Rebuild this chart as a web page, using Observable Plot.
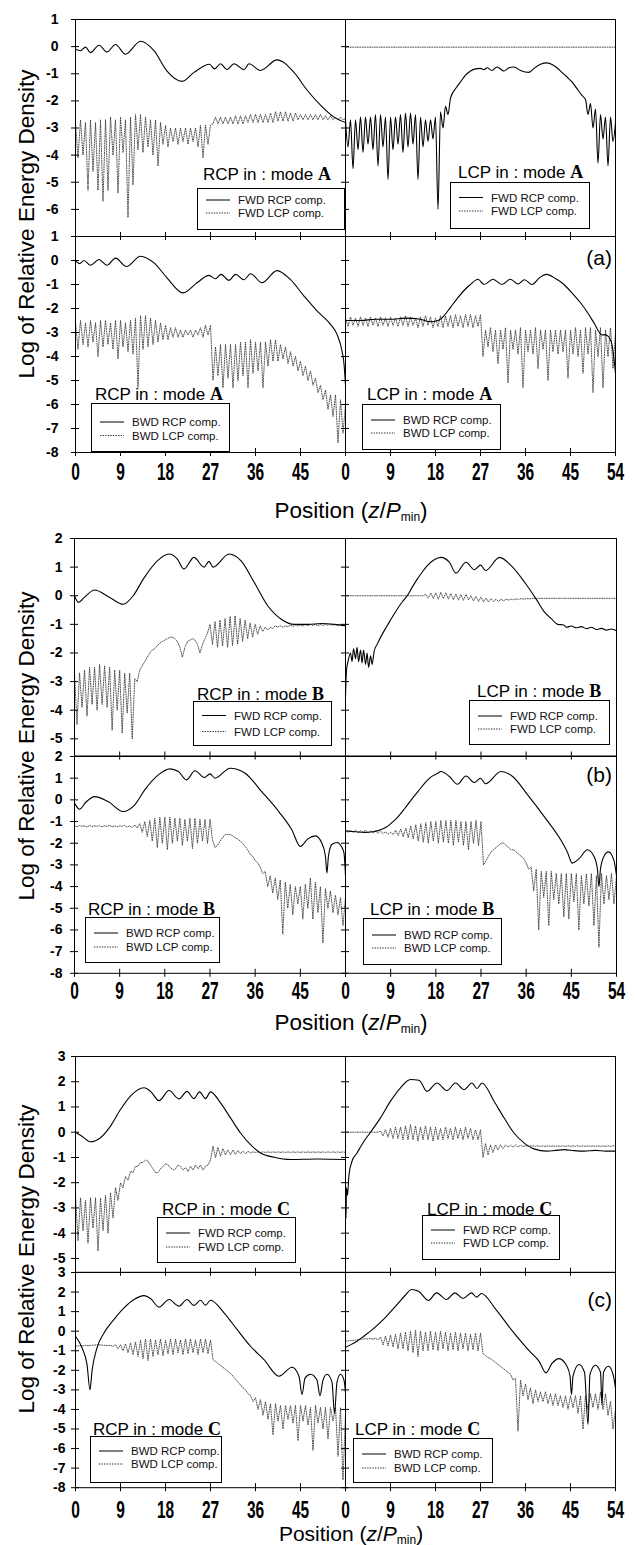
<!DOCTYPE html>
<html><head><meta charset="utf-8">
<script src="https://cdn.jsdelivr.net/npm/d3@7"></script>
<script src="https://cdn.jsdelivr.net/npm/@observablehq/plot@0.6"></script>
<style>
body{margin:0;background:#fff;}
#fig{position:relative;width:635px;height:1545px;overflow:hidden;font-family:"Liberation Sans",Arial,sans-serif;color:#000;background:#fff;}
#fig svg{position:absolute;}
.ttl{position:absolute;white-space:nowrap;font-size:22.5px;line-height:1;}
.hd{position:absolute;white-space:nowrap;font-size:17px;line-height:20px;height:20px;}
.hd b{font-family:"Liberation Serif","Times New Roman",serif;font-weight:bold;font-size:18px;}
.lg{position:absolute;border:1px solid #000;background:#fff;box-sizing:border-box;}
</style></head>
<body><div id="fig"></div>
<script>
// ---------- tick labels ----------
const XT = [0, 9, 18, 27, 36, 45, 54];
const YT_A_TOP = [1, 0, -1, -2, -3, -4, -5, -6];
const YT_A_BOT = [1, 0, -1, -2, -3, -4, -5, -6, -7, -8];
const YT_B_TOP = [2, 1, 0, -1, -2, -3, -4, -5];
const YT_B_BOT = [2, 1, 0, -1, -2, -3, -4, -5, -6, -7, -8];
const YT_C_TOP = [3, 2, 1, 0, -1, -2, -3, -4, -5];
const YT_C_BOT = [3, 2, 1, 0, -1, -2, -3, -4, -5, -6, -7, -8];

// ---------- (a) mode A ----------
// solid curves: [z, log density]
const A_TL_RCP = [[0,-0.1],[1,-0.15],[2,-0.02],[3,-0.22],[4.7,0.05],[6.3,-0.2],[8,0.08],[10,-0.28],[13,0.2],[15.7,-0.15],[18.3,-0.9],[21.3,-1.28],[23.7,-0.95],[26.8,-0.65],[27.8,-0.82],[29,-0.63],[30.3,-0.85],[31.7,-0.63],[33.7,-0.85],[34.7,-0.63],[37,-0.88],[40.3,-0.49],[43.7,-0.95],[46.3,-1.6],[49,-2.16],[51.7,-2.6],[54,-2.8]];
// dotted curves sampled every 0.5 in z (z = 0 … 54)
const A_TL_LCP = [-2.8,-4.1,-2.7,-4.0,-2.8,-5.3,-2.7,-4.6,-2.8,-5.3,
 -2.7,-5.7,-2.7,-5.3,-2.6,-4.0,-2.7,-5.4,-2.6,-3.9,
 -2.7,-6.3,-2.6,-5.1,-2.5,-3.8,-2.5,-3.9,-2.6,-3.7,
 -2.7,-4.0,-2.7,-4.4,-2.8,-3.6,-2.9,-3.7,-3.0,-3.5,
 -3.0,-3.6,-3.0,-3.5,-3.0,-3.6,-3.0,-3.5,-3.0,-3.7,
 -2.9,-4.1,-2.9,-3.6,-2.9,-2.85,-2.6,-2.85,-2.6,-2.85,
 -2.6,-2.85,-2.6,-2.85,-2.55,-2.85,-2.55,-2.85,-2.55,-2.8,
 -2.5,-2.8,-2.5,-2.8,-2.5,-2.8,-2.5,-2.8,-2.45,-2.8,
 -2.4,-2.75,-2.4,-2.75,-2.4,-2.75,-2.45,-2.75,-2.45,-2.7,
 -2.5,-2.7,-2.5,-2.7,-2.5,-2.7,-2.5,-2.7,-2.5,-2.7,
 -2.55,-2.7,-2.55,-2.7,-2.6,-2.7,-2.6,-2.7,-2.65];
const A_TR_RCP = [[0,-2.7],[0.5,-3.7],[1,-2.7],[1.5,-4.5],[2,-2.7],[2.5,-3.8],[3,-2.6],[3.5,-3.9],[4,-2.6],[4.5,-3.6],[5,-2.6],[5.5,-3.8],[6,-2.5],[6.5,-4.4],[7,-2.5],[7.5,-3.7],[8,-2.6],[8.5,-4.9],[9,-2.6],[9.5,-3.8],[10,-2.6],[10.5,-3.6],[11,-2.5],[11.5,-3.9],[12,-2.45],[12.5,-3.7],[13,-2.45],[13.5,-3.6],[14,-2.5],[14.5,-4.9],[15,-2.6],[15.5,-3.7],[16,-2.7],[16.5,-3.5],[17,-2.7],[17.5,-3.4],[18,-2.6],[18.5,-6.0],[19,-2.4],[19.5,-3.0],[20,-2.2],[20.5,-2.5],[21,-1.9],[22,-1.55],[23,-1.3],[24,-1.05],[25,-0.9],[26,-0.82],[27,-0.8],[27.7,-0.85],[28.3,-0.78],[29.3,-0.88],[30.3,-0.75],[31.7,-0.9],[32.7,-0.78],[33.7,-0.75],[35,-0.88],[36.7,-0.95],[37.7,-0.8],[39,-0.65],[40.3,-0.6],[41.5,-0.68],[42.3,-0.78],[43.3,-0.95],[44.3,-1.12],[45.3,-1.3],[46.3,-1.55],[47.3,-1.8],[48,-1.95],[48.5,-2.5],[49,-2.1],[49.5,-3.0],[50,-2.3],[50.5,-4.3],[51,-2.5],[51.5,-3.4],[52,-2.6],[52.5,-4.4],[53,-2.6],[53.5,-3.5],[54,-2.8]];
const A_TR_LCP = [[0,-0.02],[54,-0.02]];
const A_BL_RCP = [[0,0],[0.8,-0.13],[1.7,0],[3,-0.2],[4.7,0.04],[6.3,-0.2],[8,0.1],[10.2,-0.25],[13,0.18],[15.7,-0.1],[18.3,-0.72],[21.5,-1.35],[24.3,-0.93],[26.7,-0.62],[28,-0.76],[29.1,-0.58],[30.7,-0.83],[32,-0.58],[33.7,-0.8],[35,-0.55],[37.3,-0.93],[40.3,-0.42],[43,-0.8],[45.7,-1.48],[48.3,-2.1],[51,-2.66],[52.3,-3.08],[53.3,-3.77],[53.7,-4.3],[54,-5.2]];
const A_BL_LCP = [-2.6,-3.7,-2.5,-3.5,-2.6,-3.6,-2.5,-3.4,-2.6,-4.0,
 -2.5,-3.6,-2.5,-3.5,-2.6,-3.7,-2.5,-4.1,-2.5,-3.6,
 -2.6,-3.8,-2.5,-3.9,-2.4,-5.3,-2.3,-3.7,-2.3,-3.6,
 -2.4,-3.5,-2.5,-3.4,-2.6,-3.3,-2.7,-3.3,-2.8,-3.2,
 -2.8,-3.2,-2.9,-3.2,-2.9,-3.1,-2.9,-3.2,-2.9,-3.1,
 -2.8,-3.2,-2.7,-3.1,-2.7,-5.0,-3.6,-4.8,-3.5,-5.3,
 -3.5,-4.9,-3.5,-5.3,-3.5,-5.0,-3.4,-4.8,-3.4,-5.3,
 -3.3,-4.7,-3.4,-4.6,-3.4,-5.3,-3.4,-4.4,-3.3,-4.2,
 -3.3,-4.2,-3.5,-4.1,-3.6,-4.3,-3.8,-4.4,-4.0,-4.6,
 -4.2,-4.8,-4.4,-5.0,-4.6,-5.2,-4.9,-5.5,-5.2,-5.8,
 -5.4,-6.2,-5.6,-6.5,-5.6,-7.6,-5.8,-7.2,-6.0];
const A_BR_RCP = [[0,-2.5],[3,-2.5],[6,-2.45],[9,-2.45],[12,-2.4],[15,-2.45],[17,-2.55],[18.5,-2.5],[19.7,-2.3],[21,-1.95],[22.3,-1.6],[23.7,-1.25],[25,-1.0],[26.5,-0.78],[27.7,-1.0],[29.5,-0.78],[31.3,-1.0],[33,-0.78],[34.5,-0.98],[35.8,-0.8],[37.3,-1.0],[38.8,-0.72],[40.2,-0.58],[42,-0.75],[43.7,-1.0],[45.3,-1.35],[47,-1.76],[48.5,-2.2],[49.7,-2.6],[51.3,-3.1],[52,-3.1],[52.7,-3.2],[53.3,-3.5],[54,-4.7]];
const A_BR_LCP = [-2.4,-2.75,-2.35,-2.7,-2.4,-2.75,-2.35,-2.7,-2.4,-2.75,
 -2.35,-2.7,-2.4,-2.75,-2.35,-2.7,-2.4,-2.75,-2.35,-2.7,
 -2.4,-2.75,-2.35,-2.7,-2.3,-2.75,-2.35,-2.7,-2.4,-2.8,
 -2.35,-2.75,-2.3,-2.7,-2.35,-2.8,-2.4,-2.75,-2.3,-2.8,
 -2.3,-2.75,-2.3,-2.8,-2.25,-2.75,-2.3,-2.8,-2.25,-2.75,
 -2.25,-2.8,-2.3,-2.75,-2.25,-4.0,-2.9,-3.6,-2.8,-3.8,
 -2.9,-4.3,-2.9,-3.7,-2.8,-5.1,-2.9,-3.7,-2.9,-3.9,
 -2.8,-5.3,-2.9,-3.8,-2.9,-3.9,-2.8,-4.5,-2.9,-3.7,
 -2.9,-5.0,-2.9,-3.8,-2.9,-3.9,-2.9,-3.8,-2.9,-4.9,
 -2.9,-3.9,-2.8,-4.0,-2.9,-4.7,-2.8,-3.9,-2.8,-5.5,
 -2.9,-4.0,-2.8,-5.3,-2.9,-4.0,-2.8,-4.5,-3.0];

// ---------- (b) mode B ----------
const B_TL_RCP = [[0,0],[0.8,-0.23],[2,-0.05],[4,0.2],[7,-0.06],[9.7,-0.3],[11.7,0],[13.7,0.58],[16.5,1.22],[18.8,1.46],[20.5,1.28],[21.8,0.93],[23.8,1.34],[25.8,1.0],[26.8,1.2],[27.6,1.0],[30.8,1.46],[33.2,1.22],[35.8,0.47],[38.5,-0.35],[41.2,-0.82],[43.8,-1.0],[46.5,-1.0],[49.2,-0.97],[51.8,-1.0],[54,-1.05]];
const B_TL_LCP = [-2.7,-4.5,-2.7,-3.9,-2.6,-4.2,-2.5,-3.8,-2.5,-4.0,
 -2.4,-3.8,-2.45,-3.9,-2.5,-4.7,-2.6,-4.0,-2.6,-4.8,
 -2.7,-4.1,-2.7,-5.0,-2.9,-3.0,-2.6,-2.45,-2.3,-2.15,
 -2.0,-1.9,-1.85,-1.75,-1.65,-1.6,-1.55,-1.5,-1.45,-1.45,
 -1.5,-1.6,-1.8,-2.15,-1.8,-1.6,-1.55,-1.5,-1.55,-1.7,
 -2.0,-1.7,-1.5,-1.3,-1.0,-1.7,-0.9,-1.8,-0.85,-1.75,
 -0.8,-1.8,-0.72,-1.75,-0.7,-1.7,-0.8,-1.6,-0.85,-1.5,
 -0.95,-1.45,-1.0,-1.35,-1.05,-1.25,-1.1,-1.2,-1.1,-1.15,
 -1.05,-1.1,-1.05,-1.1,-1.05,-1.08,-1.03,-1.07,-1.02,-1.06,
 -1.02,-1.06,-1.0,-1.05,-1.0,-1.04,-1.0,-1.05,-1.0,-1.04,
 -1.0,-1.03,-1.0,-1.03,-1.0,-1.04,-1.0,-1.03,-1.02];
const B_TR_RCP = [[0,-3.5],[0.2,-2.6],[0.5,-2.3],[1,-2.0],[1.3,-2.3],[1.6,-1.85],[2,-2.2],[2.3,-1.8],[2.6,-2.3],[3,-1.9],[3.3,-2.35],[3.6,-1.9],[4,-2.4],[4.3,-2.0],[4.6,-2.5],[5,-2.1],[5.3,-2.4],[5.7,-1.95],[6.3,-1.7],[7.3,-1.35],[8.3,-1.05],[9.3,-0.75],[10.3,-0.47],[11.3,-0.22],[12.3,0],[13.3,0.3],[14.3,0.58],[15.3,0.83],[16.3,1.05],[17.6,1.25],[19,1.34],[20.7,1.17],[22,0.79],[24,1.17],[25.7,0.91],[26.9,1.07],[27.9,0.88],[30.7,1.34],[33,1.05],[35.7,0.47],[38,-0.12],[39.7,-0.58],[41,-0.8],[42.3,-1.0],[43.5,-1.02],[44,-1.1],[45,-1.06],[46,-1.12],[47,-1.08],[48,-1.15],[49,-1.1],[50,-1.18],[51,-1.14],[52,-1.2],[53,-1.16],[54,-1.22]];
const B_TR_LCP = [0,0,0,0,0,0,0,0,0,0,
 0,0,0,0,0,0,0,0,0,0,
 0,0,0,0,0,0,0,0,0,0,
 0,0,0.05,-0.08,0.1,-0.1,0.1,-0.12,0.12,-0.1,
 0.1,-0.12,0.08,-0.14,0.06,-0.15,0.04,-0.16,0.05,-0.15,
 0.0,-0.18,-0.02,-0.2,-0.05,-0.22,-0.08,-0.22,-0.1,-0.2,
 -0.12,-0.2,-0.12,-0.18,-0.12,-0.15,-0.12,-0.14,-0.11,-0.13,
 -0.1,-0.12,-0.1,-0.11,-0.1,-0.09,-0.09,-0.09,-0.09,-0.09,
 -0.09,-0.09,-0.09,-0.09,-0.09,-0.09,-0.09,-0.09,-0.09,-0.09,
 -0.09,-0.09,-0.09,-0.09,-0.09,-0.09,-0.09,-0.09,-0.09,-0.09,
 -0.09,-0.09,-0.09,-0.09,-0.09,-0.09,-0.09,-0.09,-0.09];
const B_BL_RCP = [[0,-0.15],[1,-0.43],[2.3,-0.1],[4,0.15],[6.7,-0.08],[9.7,-0.54],[12,-0.23],[14,0.46],[16.7,1.15],[19,1.43],[20.7,1.31],[22.3,0.92],[24,1.34],[25.9,1.03],[27,1.2],[28,1.0],[31,1.46],[34,1.23],[37.3,0.38],[40.7,-0.54],[43.3,-1.38],[45,-2.15],[46.5,-1.8],[48,-1.66],[49.3,-2.0],[50,-2.6],[50.3,-3.38],[50.6,-2.6],[51.3,-2.05],[52.3,-1.97],[53.3,-2.2],[53.7,-2.46],[54,-3.5]];
const B_BL_LCP = [-1.2,-1.24,-1.18,-1.22,-1.2,-1.25,-1.18,-1.23,-1.2,-1.22,
 -1.19,-1.24,-1.2,-1.22,-1.18,-1.24,-1.2,-1.25,-1.2,-1.22,
 -1.18,-1.26,-1.2,-1.28,-1.15,-1.3,-1.1,-1.5,-1.0,-1.7,
 -0.95,-1.9,-0.85,-2.2,-0.8,-2.0,-0.8,-2.3,-0.8,-2.0,
 -0.85,-1.9,-0.85,-2.1,-0.9,-1.9,-0.85,-2.25,-0.85,-2.0,
 -0.9,-1.9,-0.9,-2.0,-0.9,-1.85,-2.2,-2.1,-1.9,-1.75,
 -1.6,-1.6,-1.6,-1.65,-1.75,-1.8,-1.9,-2.0,-2.15,-2.3,
 -2.5,-2.6,-2.8,-2.9,-3.1,-3.4,-3.3,-4.0,-3.5,-4.3,
 -3.6,-4.6,-3.7,-6.2,-3.8,-5.0,-3.9,-5.3,-4.0,-4.8,
 -4.0,-5.5,-3.9,-5.0,-3.6,-5.5,-3.8,-5.2,-4.0,-6.6,
 -4.1,-5.0,-4.2,-5.2,-4.4,-5.3,-4.5,-5.8,-4.5];
const B_BR_RCP = [[0,-1.43],[2,-1.47],[3.8,-1.5],[5.5,-1.47],[6.5,-1.42],[7.5,-1.33],[8.5,-1.2],[9.5,-1.0],[10.5,-0.77],[11.8,-0.4],[13.1,0],[14.5,0.4],[15.8,0.77],[17,1.05],[18.4,1.23],[19,1.31],[20.7,1.08],[22.3,0.72],[24,1.1],[25.7,0.8],[26.9,1.0],[27.9,0.74],[31,1.31],[33.3,1.08],[36.3,0.23],[39.6,-0.77],[42.9,-1.85],[44.2,-2.4],[45.2,-2.92],[46.6,-2.7],[48.2,-2.3],[49.5,-2.6],[50.2,-3.2],[50.5,-4.0],[50.8,-3.2],[51.5,-2.6],[52.4,-2.4],[53.5,-2.8],[54,-3.5]];
const B_BR_LCP = [-1.4,-1.5,-1.42,-1.5,-1.4,-1.52,-1.42,-1.5,-1.4,-1.52,
 -1.42,-1.52,-1.45,-1.55,-1.45,-1.55,-1.48,-1.58,-1.5,-1.6,
 -1.4,-1.65,-1.35,-1.7,-1.3,-1.75,-1.2,-1.8,-1.15,-1.9,
 -1.1,-1.95,-1.05,-2.0,-1.0,-1.9,-1.0,-2.0,-0.95,-1.95,
 -0.95,-2.0,-0.95,-2.1,-0.95,-1.95,-1.0,-2.1,-1.0,-2.3,
 -1.0,-2.0,-0.95,-2.1,-1.0,-3.0,-2.8,-2.6,-2.4,-2.3,
 -2.2,-2.1,-2.0,-2.0,-2.1,-2.2,-2.3,-2.3,-2.4,-2.5,
 -2.6,-2.7,-2.9,-3.2,-3.1,-4.2,-3.2,-6.0,-3.3,-4.5,
 -3.3,-5.8,-3.3,-4.6,-3.4,-4.8,-3.4,-5.4,-3.4,-5.5,
 -3.4,-4.7,-3.4,-6.0,-3.5,-4.8,-3.4,-4.9,-3.4,-5.8,
 -3.5,-6.8,-3.4,-4.8,-3.5,-4.6,-3.4,-4.8,-3.5];

// ---------- (c) mode C ----------
const C_TL_RCP = [[0,0],[1.3,-0.16],[3,-0.38],[5,-0.22],[7,0.24],[9,0.9],[11,1.43],[13.7,1.76],[15,1.62],[16.7,1.25],[18.7,1.65],[20.7,1.32],[22.3,1.62],[23.7,1.33],[24.8,1.6],[26,1.33],[27,1.6],[29,1.16],[31,0.57],[33,-0.03],[35,-0.49],[37,-0.82],[39.7,-0.99],[43,-1.08],[48.3,-1.06],[54,-1.08]];
const C_TL_LCP = [-2.5,-4.3,-2.6,-3.9,-2.7,-4.4,-2.6,-3.8,-2.6,-4.7,
 -2.6,-3.9,-2.5,-4.0,-2.4,-3.4,-2.2,-2.7,-2.0,-2.2,
 -1.75,-1.9,-1.55,-1.6,-1.35,-1.35,-1.2,-1.2,-1.1,-1.15,
 -1.3,-1.45,-1.6,-1.6,-1.45,-1.35,-1.25,-1.3,-1.4,-1.5,
 -1.45,-1.3,-1.35,-1.5,-1.4,-1.55,-1.35,-1.5,-1.3,-1.45,
 -1.3,-1.5,-1.35,-1.3,-1.1,-0.55,-1.0,-0.6,-0.95,-0.65,
 -0.9,-0.7,-0.9,-0.7,-0.88,-0.72,-0.85,-0.75,-0.85,-0.76,
 -0.82,-0.78,-0.8,-0.78,-0.8,-0.78,-0.8,-0.78,-0.8,-0.78,
 -0.8,-0.78,-0.8,-0.78,-0.8,-0.78,-0.8,-0.78,-0.8,-0.78,
 -0.8,-0.78,-0.8,-0.78,-0.8,-0.78,-0.8,-0.78,-0.8,-0.78,
 -0.8,-0.78,-0.8,-0.78,-0.8,-0.78,-0.8,-0.78,-0.8];
const C_TR_RCP = [[0,-1.95],[0.1,-3.4],[0.2,-2.2],[0.4,-2.5],[0.7,-1.68],[1.3,-1.15],[2.3,-0.82],[3.7,-0.36],[5,0],[7,0.57],[9,1.23],[11,1.76],[13,2.09],[14.7,2.06],[16.3,1.62],[18.3,1.95],[20.3,1.65],[22,1.95],[23.7,1.69],[25.3,1.95],[26.3,1.73],[27.3,1.95],[29.7,1.23],[31.7,0.57],[33.7,-0.03],[35.7,-0.42],[37.7,-0.66],[40.3,-0.75],[42,-0.72],[43.7,-0.69],[45.7,-0.73],[47.7,-0.75],[50,-0.72],[52,-0.75],[54,-0.75]];
const C_TR_LCP = [0,0,0,0,0,0,0,0,0,0,
 0,0,0,0,0.05,-0.15,0.1,-0.2,0.15,-0.25,
 0.2,-0.25,0.2,-0.3,0.25,-0.3,0.3,-0.3,0.25,-0.35,
 0.2,-0.3,0.25,-0.3,0.2,-0.35,0.2,-0.3,0.15,-0.3,
 0.2,-0.25,0.15,-0.3,0.2,-0.25,0.15,-0.3,0.2,-0.25,
 0.15,-0.3,0.1,-0.3,0.1,-1.0,-0.45,-0.9,-0.5,-0.8,
 -0.5,-0.7,-0.5,-0.65,-0.5,-0.6,-0.5,-0.6,-0.5,-0.58,
 -0.52,-0.57,-0.53,-0.56,-0.54,-0.54,-0.56,-0.54,-0.56,-0.54,
 -0.56,-0.54,-0.56,-0.54,-0.56,-0.54,-0.56,-0.54,-0.56,-0.54,
 -0.56,-0.54,-0.56,-0.54,-0.56,-0.54,-0.56,-0.54,-0.56,-0.54,
 -0.56,-0.54,-0.56,-0.54,-0.56,-0.54,-0.56,-0.54,-0.55];
const C_BL_RCP = [[0,-0.26],[1.3,-0.85],[2.3,-1.7],[2.9,-3.0],[3.3,-2.04],[4.3,-0.85],[5.7,-0.09],[7.7,0.6],[9.7,1.19],[11.7,1.62],[13.7,1.82],[15,1.67],[16.7,1.23],[18.7,1.62],[20.7,1.28],[22.3,1.62],[23.7,1.31],[25,1.58],[26,1.33],[27,1.58],[29.7,0.94],[32.3,0.09],[35,-0.77],[37.7,-1.45],[40.7,-2.3],[43.3,-1.84],[44.7,-2.3],[45.3,-3.24],[45.9,-2.4],[47,-2.2],[48.3,-2.5],[48.9,-3.3],[49.5,-2.5],[50.3,-2.2],[51.3,-2.6],[51.8,-4.2],[52.3,-2.6],[53,-2.2],[53.7,-2.5],[54,-3.15]];
const C_BL_LCP = [-0.75,-0.76,-0.74,-0.75,-0.73,-0.74,-0.72,-0.72,-0.7,-0.7,
 -0.7,-0.72,-0.72,-0.74,-0.72,-0.78,-0.7,-0.9,-0.7,-1.0,
 -0.65,-1.1,-0.6,-1.2,-0.55,-1.3,-0.45,-1.4,-0.4,-1.5,
 -0.4,-1.3,-0.45,-1.2,-0.4,-1.25,-0.45,-1.15,-0.4,-1.2,
 -0.4,-1.1,-0.45,-1.2,-0.4,-1.15,-0.4,-1.1,-0.45,-1.2,
 -0.4,-1.1,-0.4,-1.15,-0.45,-1.45,-1.55,-1.65,-1.75,-1.85,
 -1.95,-2.05,-2.15,-2.3,-2.45,-2.6,-2.75,-2.9,-3.0,-3.2,
 -3.3,-3.6,-3.4,-4.0,-3.5,-4.3,-3.6,-4.5,-3.7,-5.3,
 -3.7,-4.6,-3.8,-5.0,-3.8,-4.5,-3.8,-4.7,-3.8,-5.6,
 -3.8,-4.6,-3.8,-4.8,-3.9,-6.1,-3.8,-4.7,-3.9,-5.0,
 -3.9,-5.5,-3.9,-4.6,-3.9,-6.4,-3.9,-7.6,-4.3];
const C_BR_RCP = [[0,-0.82],[1,-0.7],[2.3,-0.51],[3.6,-0.27],[5,0],[7.6,0.6],[10.3,1.36],[12,1.85],[13.2,2.13],[14.6,2.04],[16.6,1.57],[18.2,1.96],[20.2,1.62],[21.9,1.96],[23.5,1.67],[25.2,1.96],[26.2,1.74],[27.2,1.93],[30.1,1.1],[33.4,0],[36.8,-1.02],[38.7,-1.53],[40.1,-2.13],[41.3,-1.65],[42.7,-1.4],[44.2,-1.75],[44.9,-2.3],[45.2,-3.24],[45.5,-2.3],[46.7,-1.7],[47.8,-2.1],[48.5,-4.77],[48.9,-2.2],[50,-1.74],[51,-2.1],[51.3,-3.75],[51.6,-2.1],[52.6,-1.79],[53.5,-2.2],[54,-2.9]];
const C_BR_LCP = [-0.51,-0.5,-0.48,-0.47,-0.45,-0.44,-0.42,-0.4,-0.38,-0.4,
 -0.37,-0.42,-0.35,-0.45,-0.3,-0.7,-0.25,-0.75,-0.2,-0.8,
 -0.15,-0.9,-0.1,-0.9,-0.05,-1.0,0.0,-1.1,0.05,-1.3,
 0.0,-1.0,-0.05,-1.0,0.0,-0.95,-0.05,-1.0,0.0,-0.9,
 -0.05,-1.0,-0.1,-0.95,-0.05,-1.0,-0.1,-0.9,-0.1,-1.0,
 -0.15,-0.95,-0.1,-1.0,-0.1,-1.15,-1.25,-1.35,-1.4,-1.5,
 -1.6,-1.7,-1.8,-1.9,-2.0,-2.1,-2.2,-2.5,-2.4,-5.1,
 -2.5,-3.3,-2.7,-3.5,-2.9,-3.7,-3.0,-3.6,-3.1,-3.6,
 -3.1,-3.7,-3.2,-3.8,-3.2,-3.8,-3.3,-3.9,-3.3,-4.0,
 -3.3,-3.9,-3.3,-4.2,-3.3,-5.0,-3.3,-4.0,-3.2,-3.9,
 -3.2,-4.0,-3.1,-4.0,-3.2,-4.3,-3.6,-5.0,-4.0];

// ---------- layout ----------
const fig = document.getElementById("fig");
const FONT = "'Liberation Sans', Arial, sans-serif";
const toData = arr => typeof arr[0] === "number"
  ? arr.map((v, i) => ({z: i / 2, v}))
  : arr.map(([z, v]) => ({z, v}));

const groups = [
  {gx: [75, 345, 615], gy: [19, 236, 452], dom: [[-7, 1], [-8, 1]], yt: [YT_A_TOP, YT_A_BOT], yPad: 13, xPad: 7,
   series: [[A_TL_RCP, A_TL_LCP], [A_TR_RCP, A_TR_LCP], [A_BL_RCP, A_BL_LCP], [A_BR_RCP, A_BR_LCP]]},
  {gx: [73.5, 344.5, 615.5], gy: [538, 755.5, 972.3], dom: [[-5.6, 2], [-8, 2]], yt: [YT_B_TOP, YT_B_BOT], yPad: 8, xPad: 5,
   series: [[B_TL_RCP, B_TL_LCP], [B_TR_RCP, B_TR_LCP], [B_BL_RCP, B_BL_LCP], [B_BR_RCP, B_BR_LCP]]},
  {gx: [75, 345, 615], gy: [1055.7, 1271.5, 1486.7], dom: [[-5.55, 3], [-8, 3]], yt: [YT_C_TOP, YT_C_BOT], yPad: 6, xPad: 10,
   series: [[C_TL_RCP, C_TL_LCP], [C_TR_RCP, C_TR_LCP], [C_BL_RCP, C_BL_LCP], [C_BR_RCP, C_BR_LCP]]}
];

function panel(g, k) {
  const left = k % 2 === 0, bottom = k >= 2;
  const x0 = left ? g.gx[0] : g.gx[1], x1 = left ? g.gx[1] : g.gx[2];
  const y0 = bottom ? g.gy[1] : g.gy[0], y1 = bottom ? g.gy[2] : g.gy[1];
  const ml = 70, mr = 8, mt = 8, mb = 45;
  const w = x1 - x0, h = y1 - y0;
  const dom = g.dom[bottom ? 1 : 0], yt = g.yt[bottom ? 1 : 0];
  const [solid, dotted] = g.series[k];
  const svg = Plot.plot({
    width: w + ml + mr, height: h + mt + mb,
    marginLeft: ml, marginRight: mr, marginTop: mt, marginBottom: mb,
    x: {domain: [0, 54], label: null},
    y: {domain: dom, label: null},
    style: {fontFamily: FONT, fontSize: "14px", fontWeight: "bold", background: "transparent", overflow: "visible", color: "#000"},
    marks: [
      Plot.line(toData(dotted), {x: "z", y: "v", stroke: "#333", strokeWidth: 0.85, strokeDasharray: "1,1.4"}),
      Plot.line(toData(solid), {x: "z", y: "v", stroke: "#000", strokeWidth: 1.1, curve: "monotone-x"}),
      Plot.frame({stroke: "#000", strokeWidth: 1}),
      Plot.axisY({ticks: yt, anchor: "left", tickSize: 4, tickPadding: g.yPad, label: null,
        tickFormat: left ? (d => String(d)) : (() => "")}),
      Plot.axisY({ticks: yt, anchor: "left", tickSize: 4, dx: 4, label: null, tickFormat: () => ""}),
      Plot.axisX({ticks: XT, anchor: "bottom", tickSize: 4, tickPadding: g.xPad, label: null, fontSize: 15.5,
        tickFormat: bottom ? (d => (left && d === 54) ? "" : String(d)) : (() => "")}),
      Plot.axisX({ticks: XT, anchor: "bottom", tickSize: 4, dy: -4, label: null, tickFormat: () => ""})
    ]
  });
  svg.style.position = "absolute";
  svg.style.left = (x0 - ml) + "px";
  svg.style.top = (y0 - mt) + "px";
  d3.select(svg).selectAll('g[aria-label="x-axis tick label"] text').each(function () {
    const t = this.getAttribute("transform") || "";
    this.setAttribute("transform", t + " scale(1,1.5)");
  });
  fig.appendChild(svg);
}
groups.forEach(g => [0, 1, 2, 3].forEach(k => panel(g, k)));

// axis titles
function addEl(cls, html, style) {
  const d = document.createElement("div");
  d.className = cls; d.innerHTML = html;
  Object.assign(d.style, style);
  fig.appendChild(d);
  return d;
}
[224, 746, 1259].forEach(cy => addEl("ttl", "Log of Relative Energy Density",
  {left: "27px", top: cy + "px", transform: "translate(-50%,-50%) rotate(-90deg)"}));
[[511, 22.5], [1023, 22.5], [1532.5, 21]].forEach(([cy, fs]) => addEl("ttl",
  'Position (<i>z</i>/<i>P</i><span style="font-size:12px;position:relative;top:3px">min</span>)',
  {left: "351px", top: cy + "px", fontSize: fs + "px", transform: "translate(-50%,-50%)"}));
[["(a)", 257], ["(b)", 773.5], ["(c)", 1299]].forEach(([t, cy]) => addEl("ttl", t,
  {left: "612px", top: cy + "px", fontSize: "21px", transform: "translate(-100%,-50%)"}));

// in-panel legends
const legends = [
  {L:197,T:188,W:148,H:42,r1:12,r2:25,hx:203,hy:173.5,pol:"RCP",mode:"A",dir:"FWD"},
  {L:450,T:182,W:140,H:47,r1:15.5,r2:29,hx:458,hy:171.5,pol:"LCP",mode:"A",dir:"FWD"},
  {L:91,T:403,W:139,H:49,r1:19,r2:32.5,hx:95,hy:393.5,pol:"RCP",mode:"A",dir:"BWD"},
  {L:362,T:404,W:139,H:46,r1:16,r2:29,hx:367,hy:393.5,pol:"LCP",mode:"A",dir:"BWD"},
  {L:193,T:701,W:139,H:45,r1:14.5,r2:30.5,hx:197,hy:694,pol:"RCP",mode:"B",dir:"FWD"},
  {L:469,T:700,W:141,H:45,r1:16,r2:29,hx:477,hy:690.5,pol:"LCP",mode:"B",dir:"FWD"},
  {L:85,T:917,W:135,H:46,r1:16,r2:30,hx:88,hy:908.5,pol:"RCP",mode:"B",dir:"BWD"},
  {L:363,T:918,W:139,H:47,r1:17,r2:30,hx:370,hy:908.5,pol:"LCP",mode:"B",dir:"BWD"},
  {L:157,T:1217,W:139,H:46,r1:16,r2:30,hx:162,hy:1208.5,pol:"RCP",mode:"C",dir:"FWD"},
  {L:422,T:1215,W:138,H:45,r1:15,r2:28,hx:427,hy:1208.5,pol:"LCP",mode:"C",dir:"FWD"},
  {L:90,T:1436,W:132,H:47,r1:15,r2:28,hx:93,hy:1428.5,pol:"RCP",mode:"C",dir:"BWD"},
  {L:353,T:1438,W:140,H:45,r1:16,r2:30,hx:355,hy:1428.5,pol:"LCP",mode:"C",dir:"BWD"}
];
legends.forEach(o => {
  addEl("hd", `${o.pol} in : mode <b>${o.mode}</b>`, {left: o.hx + "px", top: (o.hy - 10) + "px"});
  const box = addEl("lg", "", {left: o.L + "px", top: o.T + "px", width: o.W + "px", height: o.H + "px"});
  box.innerHTML = `<svg width="${o.W}" height="${o.H}" style="position:absolute;left:-1px;top:-1px;overflow:visible">
    <line x1="9" x2="33" y1="${o.r1}" y2="${o.r1}" stroke="#000" stroke-width="1"/>
    <line x1="9" x2="33" y1="${o.r2}" y2="${o.r2}" stroke="#222" stroke-width="1" stroke-dasharray="1.3,1.3"/>
    <text x="41" y="${o.r1}" dy="0.35em" font-family="${FONT}" font-size="11.5" fill="#111">${o.dir} RCP comp.</text>
    <text x="41" y="${o.r2}" dy="0.35em" font-family="${FONT}" font-size="11.5" fill="#111">${o.dir} LCP comp.</text>
  </svg>`;
});
</script>
</body></html>
